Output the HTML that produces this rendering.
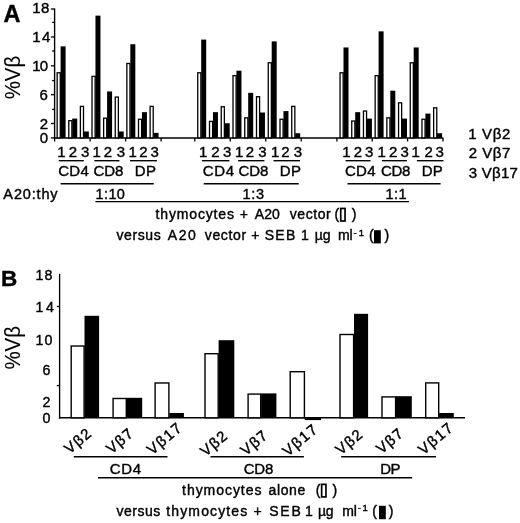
<!DOCTYPE html>
<html><head><meta charset="utf-8"><title>Figure</title>
<style>
html,body{margin:0;padding:0;background:#fff;}
svg{display:block;font-family:"Liberation Sans","DejaVu Sans",sans-serif;fill:#000;}
svg text{stroke:#000;stroke-width:0.4px;}
</style></head><body>
<svg width="520" height="523" viewBox="0 0 520 523">
<rect x="0" y="0" width="520" height="523" fill="#fff"/>
<line x1="54.60" y1="8.50" x2="54.60" y2="138.60" stroke="#000" stroke-width="1.4"/>
<line x1="53.90" y1="137.90" x2="443.30" y2="137.90" stroke="#000" stroke-width="1.5"/>
<line x1="50.90" y1="9.00" x2="54.60" y2="9.00" stroke="#000" stroke-width="1.3"/>
<line x1="52.10" y1="22.40" x2="54.60" y2="22.40" stroke="#000" stroke-width="1.3"/>
<line x1="50.90" y1="37.00" x2="54.60" y2="37.00" stroke="#000" stroke-width="1.3"/>
<line x1="52.10" y1="51.00" x2="54.60" y2="51.00" stroke="#000" stroke-width="1.3"/>
<line x1="50.90" y1="65.80" x2="54.60" y2="65.80" stroke="#000" stroke-width="1.3"/>
<line x1="52.10" y1="80.60" x2="54.60" y2="80.60" stroke="#000" stroke-width="1.3"/>
<line x1="50.90" y1="94.70" x2="54.60" y2="94.70" stroke="#000" stroke-width="1.3"/>
<line x1="52.10" y1="109.40" x2="54.60" y2="109.40" stroke="#000" stroke-width="1.3"/>
<line x1="50.90" y1="123.50" x2="54.60" y2="123.50" stroke="#000" stroke-width="1.3"/>
<line x1="50.90" y1="137.90" x2="54.60" y2="137.90" stroke="#000" stroke-width="1.3"/>
<text x="32.16" y="13.30" font-size="15" font-weight="normal" letter-spacing="0.410" >18</text>
<text x="32.16" y="42.10" font-size="15" font-weight="normal" letter-spacing="1.397" >14</text>
<text x="32.16" y="71.40" font-size="15" font-weight="normal" letter-spacing="-0.756" >10</text>
<text x="39.48" y="100.00" font-size="15" font-weight="normal" letter-spacing="0.000" >6</text>
<text x="39.78" y="129.00" font-size="15" font-weight="normal" letter-spacing="0.000" >2</text>
<text x="39.78" y="143.40" font-size="15" font-weight="normal" letter-spacing="0.000" >0</text>
<rect x="57.15" y="72.77" width="3.10" height="65.13" fill="#fff" stroke="#000" stroke-width="1.3"/>
<rect x="60.60" y="46.38" width="5.00" height="91.52" fill="#000"/>
<rect x="68.77" y="120.68" width="3.10" height="17.23" fill="#fff" stroke="#000" stroke-width="1.3"/>
<rect x="72.22" y="118.59" width="5.00" height="19.31" fill="#000"/>
<rect x="80.39" y="106.38" width="3.10" height="31.53" fill="#fff" stroke="#000" stroke-width="1.3"/>
<rect x="83.84" y="131.47" width="5.00" height="6.44" fill="#000"/>
<rect x="92.01" y="76.35" width="3.10" height="61.55" fill="#fff" stroke="#000" stroke-width="1.3"/>
<rect x="95.46" y="15.63" width="5.00" height="122.27" fill="#000"/>
<rect x="103.63" y="118.17" width="3.10" height="19.73" fill="#fff" stroke="#000" stroke-width="1.3"/>
<rect x="107.08" y="91.43" width="5.00" height="46.48" fill="#000"/>
<rect x="115.25" y="97.08" width="3.10" height="40.82" fill="#fff" stroke="#000" stroke-width="1.3"/>
<rect x="118.70" y="131.47" width="5.00" height="6.44" fill="#000"/>
<rect x="126.87" y="63.48" width="3.10" height="74.42" fill="#fff" stroke="#000" stroke-width="1.3"/>
<rect x="130.32" y="44.23" width="5.00" height="93.67" fill="#000"/>
<rect x="138.49" y="119.25" width="3.10" height="18.66" fill="#fff" stroke="#000" stroke-width="1.3"/>
<rect x="141.94" y="112.16" width="5.00" height="25.74" fill="#000"/>
<rect x="150.11" y="106.38" width="3.10" height="31.53" fill="#fff" stroke="#000" stroke-width="1.3"/>
<rect x="153.56" y="132.90" width="5.00" height="5.00" fill="#000"/>
<line x1="54.60" y1="137.90" x2="54.60" y2="141.50" stroke="#000" stroke-width="1.3"/>
<line x1="90.10" y1="137.90" x2="90.10" y2="141.50" stroke="#000" stroke-width="1.3"/>
<line x1="125.60" y1="137.90" x2="125.60" y2="141.50" stroke="#000" stroke-width="1.3"/>
<line x1="161.10" y1="137.90" x2="161.10" y2="141.50" stroke="#000" stroke-width="1.3"/>
<text x="57.32" y="156.80" font-size="15" font-weight="normal" letter-spacing="0.000" >1</text>
<text x="68.65" y="156.80" font-size="15" font-weight="normal" letter-spacing="0.000" >2</text>
<text x="81.00" y="156.80" font-size="15" font-weight="normal" letter-spacing="0.000" >3</text>
<text x="92.52" y="156.80" font-size="15" font-weight="normal" letter-spacing="0.000" >1</text>
<text x="103.70" y="156.80" font-size="15" font-weight="normal" letter-spacing="0.000" >2</text>
<text x="116.70" y="156.80" font-size="15" font-weight="normal" letter-spacing="0.000" >3</text>
<text x="128.42" y="156.80" font-size="15" font-weight="normal" letter-spacing="0.000" >1</text>
<text x="139.28" y="156.80" font-size="15" font-weight="normal" letter-spacing="0.000" >2</text>
<text x="150.55" y="156.80" font-size="15" font-weight="normal" letter-spacing="0.000" >3</text>
<line x1="58.75" y1="160.70" x2="83.75" y2="160.70" stroke="#000" stroke-width="1.4"/>
<line x1="94.40" y1="160.70" x2="119.40" y2="160.70" stroke="#000" stroke-width="1.4"/>
<line x1="130.00" y1="160.70" x2="156.90" y2="160.70" stroke="#000" stroke-width="1.4"/>
<text x="58.14" y="176.00" font-size="15" font-weight="normal" letter-spacing="0.322" >CD4</text>
<text x="93.39" y="176.00" font-size="15" font-weight="normal" letter-spacing="-0.022" >CD8</text>
<text x="134.77" y="176.00" font-size="15" font-weight="normal" letter-spacing="0.384" >DP</text>
<rect x="197.75" y="72.77" width="3.10" height="65.13" fill="#fff" stroke="#000" stroke-width="1.3"/>
<rect x="201.20" y="39.59" width="5.00" height="98.31" fill="#000"/>
<rect x="209.50" y="121.39" width="3.10" height="16.51" fill="#fff" stroke="#000" stroke-width="1.3"/>
<rect x="212.95" y="112.16" width="5.00" height="25.74" fill="#000"/>
<rect x="221.25" y="106.73" width="3.10" height="31.17" fill="#fff" stroke="#000" stroke-width="1.3"/>
<rect x="224.70" y="123.24" width="5.00" height="14.66" fill="#000"/>
<rect x="233.00" y="75.63" width="3.10" height="62.27" fill="#fff" stroke="#000" stroke-width="1.3"/>
<rect x="236.45" y="70.69" width="5.00" height="67.21" fill="#000"/>
<rect x="244.75" y="117.82" width="3.10" height="20.09" fill="#fff" stroke="#000" stroke-width="1.3"/>
<rect x="248.20" y="92.86" width="5.00" height="45.05" fill="#000"/>
<rect x="256.50" y="96.72" width="3.10" height="41.18" fill="#fff" stroke="#000" stroke-width="1.3"/>
<rect x="259.95" y="112.52" width="5.00" height="25.38" fill="#000"/>
<rect x="268.25" y="62.76" width="3.10" height="75.14" fill="#fff" stroke="#000" stroke-width="1.3"/>
<rect x="271.70" y="41.38" width="5.00" height="96.53" fill="#000"/>
<rect x="280.00" y="119.25" width="3.10" height="18.66" fill="#fff" stroke="#000" stroke-width="1.3"/>
<rect x="283.45" y="111.09" width="5.00" height="26.81" fill="#000"/>
<rect x="291.75" y="106.38" width="3.10" height="31.53" fill="#fff" stroke="#000" stroke-width="1.3"/>
<rect x="295.20" y="133.25" width="5.00" height="4.65" fill="#000"/>
<line x1="194.75" y1="137.90" x2="194.75" y2="141.50" stroke="#000" stroke-width="1.3"/>
<line x1="230.25" y1="137.90" x2="230.25" y2="141.50" stroke="#000" stroke-width="1.3"/>
<line x1="265.75" y1="137.90" x2="265.75" y2="141.50" stroke="#000" stroke-width="1.3"/>
<line x1="301.25" y1="137.90" x2="301.25" y2="141.50" stroke="#000" stroke-width="1.3"/>
<text x="198.92" y="156.80" font-size="15" font-weight="normal" letter-spacing="0.000" >1</text>
<text x="211.33" y="156.80" font-size="15" font-weight="normal" letter-spacing="0.000" >2</text>
<text x="223.05" y="156.80" font-size="15" font-weight="normal" letter-spacing="0.000" >3</text>
<text x="235.02" y="156.80" font-size="15" font-weight="normal" letter-spacing="0.000" >1</text>
<text x="245.63" y="156.80" font-size="15" font-weight="normal" letter-spacing="0.000" >2</text>
<text x="258.37" y="156.80" font-size="15" font-weight="normal" letter-spacing="0.000" >3</text>
<text x="271.05" y="156.80" font-size="15" font-weight="normal" letter-spacing="0.000" >1</text>
<text x="281.15" y="156.80" font-size="15" font-weight="normal" letter-spacing="0.000" >2</text>
<text x="293.70" y="156.80" font-size="15" font-weight="normal" letter-spacing="0.000" >3</text>
<line x1="201.90" y1="160.70" x2="229.40" y2="160.70" stroke="#000" stroke-width="1.4"/>
<line x1="238.10" y1="160.70" x2="264.40" y2="160.70" stroke="#000" stroke-width="1.4"/>
<line x1="273.50" y1="160.70" x2="300.00" y2="160.70" stroke="#000" stroke-width="1.4"/>
<text x="202.74" y="176.00" font-size="15" font-weight="normal" letter-spacing="0.647" >CD4</text>
<text x="238.39" y="176.00" font-size="15" font-weight="normal" letter-spacing="-0.022" >CD8</text>
<text x="279.77" y="176.00" font-size="15" font-weight="normal" letter-spacing="0.384" >DP</text>
<rect x="340.05" y="72.77" width="3.10" height="65.13" fill="#fff" stroke="#000" stroke-width="1.3"/>
<rect x="343.50" y="47.45" width="5.00" height="90.45" fill="#000"/>
<rect x="351.75" y="121.03" width="3.10" height="16.87" fill="#fff" stroke="#000" stroke-width="1.3"/>
<rect x="355.20" y="112.16" width="5.00" height="25.74" fill="#000"/>
<rect x="363.45" y="111.02" width="3.10" height="26.88" fill="#fff" stroke="#000" stroke-width="1.3"/>
<rect x="366.90" y="118.59" width="5.00" height="19.31" fill="#000"/>
<rect x="375.15" y="75.63" width="3.10" height="62.27" fill="#fff" stroke="#000" stroke-width="1.3"/>
<rect x="378.60" y="31.36" width="5.00" height="106.54" fill="#000"/>
<rect x="386.85" y="117.82" width="3.10" height="20.09" fill="#fff" stroke="#000" stroke-width="1.3"/>
<rect x="390.30" y="90.71" width="5.00" height="47.19" fill="#000"/>
<rect x="398.55" y="102.80" width="3.10" height="35.10" fill="#fff" stroke="#000" stroke-width="1.3"/>
<rect x="402.00" y="118.59" width="5.00" height="19.31" fill="#000"/>
<rect x="410.25" y="62.76" width="3.10" height="75.14" fill="#fff" stroke="#000" stroke-width="1.3"/>
<rect x="413.70" y="47.45" width="5.00" height="90.45" fill="#000"/>
<rect x="421.95" y="119.25" width="3.10" height="18.66" fill="#fff" stroke="#000" stroke-width="1.3"/>
<rect x="425.40" y="113.59" width="5.00" height="24.31" fill="#000"/>
<rect x="433.65" y="107.81" width="3.10" height="30.10" fill="#fff" stroke="#000" stroke-width="1.3"/>
<rect x="437.10" y="133.25" width="5.00" height="4.65" fill="#000"/>
<line x1="336.90" y1="137.90" x2="336.90" y2="141.50" stroke="#000" stroke-width="1.3"/>
<line x1="372.25" y1="137.90" x2="372.25" y2="141.50" stroke="#000" stroke-width="1.3"/>
<line x1="407.60" y1="137.90" x2="407.60" y2="141.50" stroke="#000" stroke-width="1.3"/>
<line x1="442.95" y1="137.90" x2="442.95" y2="141.50" stroke="#000" stroke-width="1.3"/>
<text x="342.32" y="156.80" font-size="15" font-weight="normal" letter-spacing="0.000" >1</text>
<text x="353.83" y="156.80" font-size="15" font-weight="normal" letter-spacing="0.000" >2</text>
<text x="365.05" y="156.80" font-size="15" font-weight="normal" letter-spacing="0.000" >3</text>
<text x="377.52" y="156.80" font-size="15" font-weight="normal" letter-spacing="0.000" >1</text>
<text x="388.95" y="156.80" font-size="15" font-weight="normal" letter-spacing="0.000" >2</text>
<text x="400.55" y="156.80" font-size="15" font-weight="normal" letter-spacing="0.000" >3</text>
<text x="411.62" y="156.80" font-size="15" font-weight="normal" letter-spacing="0.000" >1</text>
<text x="424.58" y="156.80" font-size="15" font-weight="normal" letter-spacing="0.000" >2</text>
<text x="435.55" y="156.80" font-size="15" font-weight="normal" letter-spacing="0.000" >3</text>
<line x1="345.60" y1="160.70" x2="370.60" y2="160.70" stroke="#000" stroke-width="1.4"/>
<line x1="381.90" y1="160.70" x2="406.90" y2="160.70" stroke="#000" stroke-width="1.4"/>
<line x1="416.90" y1="160.70" x2="443.50" y2="160.70" stroke="#000" stroke-width="1.4"/>
<text x="344.89" y="176.00" font-size="15" font-weight="normal" letter-spacing="0.372" >CD4</text>
<text x="380.89" y="176.00" font-size="15" font-weight="normal" letter-spacing="-0.322" >CD8</text>
<text x="421.67" y="176.00" font-size="15" font-weight="normal" letter-spacing="0.384" >DP</text>
<line x1="60.60" y1="183.70" x2="153.75" y2="183.70" stroke="#000" stroke-width="1.4"/>
<line x1="203.75" y1="183.70" x2="298.75" y2="183.70" stroke="#000" stroke-width="1.4"/>
<line x1="347.50" y1="183.70" x2="440.60" y2="183.70" stroke="#000" stroke-width="1.4"/>
<line x1="95.40" y1="201.60" x2="409.00" y2="201.60" stroke="#000" stroke-width="1.4"/>
<text x="3.37" y="199.00" font-size="14.5" font-weight="normal" letter-spacing="0.848" >A20:thy</text>
<text x="95.55" y="198.80" font-size="14.5" font-weight="normal" letter-spacing="0.383" >1:10</text>
<text x="242.40" y="198.80" font-size="14.5" font-weight="normal" letter-spacing="0.717" >1:3</text>
<text x="385.55" y="198.80" font-size="14.5" font-weight="normal" letter-spacing="0.428" >1:1</text>
<text x="155.59" y="218.80" font-size="14" font-weight="normal" letter-spacing="0.841" >thymocytes</text>
<text x="239.67" y="218.80" font-size="14" font-weight="normal" letter-spacing="0.000" >+</text>
<text x="254.77" y="218.80" font-size="14" font-weight="normal" letter-spacing="0.032" >A20</text>
<text x="289.75" y="218.80" font-size="14" font-weight="normal" letter-spacing="0.561" >vector</text>
<text x="334.40" y="218.80" font-size="14" font-weight="normal" letter-spacing="0.000" >(</text>
<text x="351.81" y="218.80" font-size="14" font-weight="normal" letter-spacing="0.000" >)</text>
<rect x="340.75" y="208.45" width="4.30" height="12.55" fill="#fff" stroke="#000" stroke-width="1.7"/>
<text x="116.50" y="240.40" font-size="14" font-weight="normal" letter-spacing="0.594" >versus</text>
<text x="167.77" y="240.40" font-size="14" font-weight="normal" letter-spacing="1.532" >A20</text>
<text x="204.75" y="240.40" font-size="14" font-weight="normal" letter-spacing="0.661" >vector</text>
<text x="251.29" y="240.40" font-size="14" font-weight="normal" letter-spacing="0.000" >+</text>
<text x="264.66" y="240.40" font-size="14" font-weight="normal" letter-spacing="1.380" >SEB</text>
<text x="300.92" y="240.40" font-size="14" font-weight="normal" letter-spacing="0.000" >1</text>
<text x="314.84" y="240.40" font-size="14" font-weight="normal" letter-spacing="-0.093" >µg</text>
<text x="338.12" y="240.40" font-size="14" font-weight="normal" letter-spacing="-0.256" >ml</text>
<text x="369.03" y="240.40" font-size="14" font-weight="normal" letter-spacing="0.000" >(</text>
<text x="384.61" y="240.40" font-size="14" font-weight="normal" letter-spacing="0.000" >)</text>
<text x="353.53" y="236.00" font-size="9.5" font-weight="normal" letter-spacing="2.039" >-1</text>
<rect x="374.00" y="230.20" width="6.80" height="13.20" fill="#000"/>
<text x="468.26" y="139.20" font-size="15" font-weight="normal" letter-spacing="0.653" >1 Vβ2</text>
<text x="468.65" y="157.90" font-size="15" font-weight="normal" letter-spacing="0.556" >2 Vβ7</text>
<text x="468.83" y="177.60" font-size="15" font-weight="normal" letter-spacing="0.240" >3 Vβ17</text>
<text x="3.38" y="21.90" font-size="23.5" font-weight="bold" letter-spacing="0.000" >A</text>
<text x="1.03" y="285.60" font-size="22.5" font-weight="bold" letter-spacing="0.000" >B</text>
<text transform="translate(20,99.3) rotate(-90)" font-size="21.5" style="stroke-width:0.1px" textLength="43.5" lengthAdjust="spacingAndGlyphs">%Vβ</text>
<text transform="translate(20,369.6) rotate(-90)" font-size="21.5" style="stroke-width:0.1px" textLength="43.5" lengthAdjust="spacingAndGlyphs">%Vβ</text>
<line x1="59.60" y1="273.90" x2="59.60" y2="418.50" stroke="#000" stroke-width="1.35"/>
<line x1="58.90" y1="417.80" x2="465.00" y2="417.80" stroke="#000" stroke-width="1.5"/>
<line x1="56.80" y1="306.50" x2="59.60" y2="306.50" stroke="#000" stroke-width="1.3"/>
<line x1="56.80" y1="385.60" x2="59.60" y2="385.60" stroke="#000" stroke-width="1.3"/>
<text x="42.60" y="423.40" font-size="14.2" font-weight="normal" letter-spacing="0.000" >0</text>
<text x="42.60" y="406.60" font-size="14.2" font-weight="normal" letter-spacing="0.000" >2</text>
<text x="42.55" y="374.80" font-size="14.2" font-weight="normal" letter-spacing="0.000" >6</text>
<text x="35.57" y="344.70" font-size="14.2" font-weight="normal" letter-spacing="1.042" >10</text>
<text x="35.57" y="311.80" font-size="14.2" font-weight="normal" letter-spacing="2.653" >14</text>
<text x="35.57" y="279.50" font-size="14.2" font-weight="normal" letter-spacing="1.104" >18</text>
<rect x="71.20" y="346.02" width="12.90" height="71.78" fill="#fff" stroke="#000" stroke-width="1.4"/>
<rect x="84.50" y="315.80" width="14.60" height="102.00" fill="#000"/>
<text transform="translate(69.5,454.5) rotate(-40)" font-size="15" letter-spacing="1.3">Vβ2</text>
<rect x="113.10" y="398.50" width="13.20" height="19.30" fill="#fff" stroke="#000" stroke-width="1.4"/>
<rect x="126.70" y="397.80" width="15.50" height="20.00" fill="#000"/>
<text transform="translate(111.4,454.5) rotate(-40)" font-size="15" letter-spacing="1.3">Vβ7</text>
<rect x="155.10" y="382.98" width="13.80" height="34.82" fill="#fff" stroke="#000" stroke-width="1.4"/>
<rect x="169.30" y="413.00" width="14.60" height="4.80" fill="#000"/>
<text transform="translate(152.2,455.4) rotate(-40)" font-size="15" letter-spacing="1.5">Vβ17</text>
<rect x="205.00" y="353.70" width="13.20" height="64.10" fill="#fff" stroke="#000" stroke-width="1.4"/>
<rect x="218.60" y="340.20" width="15.70" height="77.60" fill="#000"/>
<text transform="translate(205.5,456.9) rotate(-40)" font-size="15" letter-spacing="1.3">Vβ2</text>
<rect x="248.10" y="394.10" width="12.60" height="23.70" fill="#fff" stroke="#000" stroke-width="1.4"/>
<rect x="261.10" y="393.40" width="15.30" height="24.40" fill="#000"/>
<text transform="translate(245.8,456.3) rotate(-40)" font-size="15" letter-spacing="1.3">Vβ7</text>
<rect x="290.20" y="371.70" width="14.20" height="46.10" fill="#fff" stroke="#000" stroke-width="1.4"/>
<rect x="304.80" y="417.80" width="16.20" height="2.30" fill="#000"/>
<text transform="translate(287.8,456.9) rotate(-40)" font-size="15" letter-spacing="1.5">Vβ17</text>
<rect x="340.00" y="334.50" width="13.60" height="83.30" fill="#fff" stroke="#000" stroke-width="1.4"/>
<rect x="354.00" y="313.80" width="14.10" height="104.00" fill="#000"/>
<text transform="translate(340.8,455.4) rotate(-40)" font-size="15" letter-spacing="1.3">Vβ2</text>
<rect x="382.00" y="396.90" width="13.60" height="20.90" fill="#fff" stroke="#000" stroke-width="1.4"/>
<rect x="396.00" y="396.20" width="15.80" height="21.60" fill="#000"/>
<text transform="translate(381.4,454.5) rotate(-40)" font-size="15" letter-spacing="1.3">Vβ7</text>
<rect x="425.70" y="382.90" width="13.00" height="34.90" fill="#fff" stroke="#000" stroke-width="1.4"/>
<rect x="439.10" y="413.00" width="14.70" height="4.80" fill="#000"/>
<text transform="translate(423.5,455.4) rotate(-40)" font-size="15" letter-spacing="1.5">Vβ17</text>
<line x1="73.75" y1="456.70" x2="167.50" y2="456.70" stroke="#000" stroke-width="1.4"/>
<line x1="210.50" y1="456.70" x2="303.90" y2="456.70" stroke="#000" stroke-width="1.4"/>
<line x1="341.20" y1="456.70" x2="436.00" y2="456.70" stroke="#000" stroke-width="1.4"/>
<text x="109.64" y="473.60" font-size="15" font-weight="normal" letter-spacing="0.697" >CD4</text>
<text x="243.64" y="473.60" font-size="15" font-weight="normal" letter-spacing="-0.097" >CD8</text>
<text x="380.17" y="473.60" font-size="15" font-weight="normal" letter-spacing="-0.516" >DP</text>
<line x1="98.00" y1="477.80" x2="412.20" y2="477.80" stroke="#000" stroke-width="1.4"/>
<text x="182.09" y="494.50" font-size="14" font-weight="normal" letter-spacing="0.952" >thymocytes</text>
<text x="268.46" y="494.50" font-size="14" font-weight="normal" letter-spacing="0.653" >alone</text>
<text x="315.78" y="494.50" font-size="14" font-weight="normal" letter-spacing="0.000" >(</text>
<text x="332.46" y="494.50" font-size="14" font-weight="normal" letter-spacing="0.000" >)</text>
<rect x="321.65" y="484.35" width="4.30" height="12.55" fill="#fff" stroke="#000" stroke-width="1.7"/>
<text x="116.50" y="516.20" font-size="14" font-weight="normal" letter-spacing="0.494" >versus</text>
<text x="166.34" y="516.20" font-size="14" font-weight="normal" letter-spacing="1.119" >thymocytes</text>
<text x="253.42" y="516.20" font-size="14" font-weight="normal" letter-spacing="0.000" >+</text>
<text x="269.16" y="516.20" font-size="14" font-weight="normal" letter-spacing="1.880" >SEB</text>
<text x="305.04" y="516.20" font-size="14" font-weight="normal" letter-spacing="0.000" >1</text>
<text x="318.09" y="516.20" font-size="14" font-weight="normal" letter-spacing="-0.343" >µg</text>
<text x="342.37" y="516.20" font-size="14" font-weight="normal" letter-spacing="-0.256" >ml</text>
<text x="372.33" y="516.20" font-size="14" font-weight="normal" letter-spacing="0.000" >(</text>
<text x="388.81" y="516.20" font-size="14" font-weight="normal" letter-spacing="0.000" >)</text>
<text x="357.78" y="511.30" font-size="9.5" font-weight="normal" letter-spacing="1.539" >-1</text>
<rect x="379.00" y="505.80" width="6.80" height="13.40" fill="#000"/>
</svg>
</body></html>
